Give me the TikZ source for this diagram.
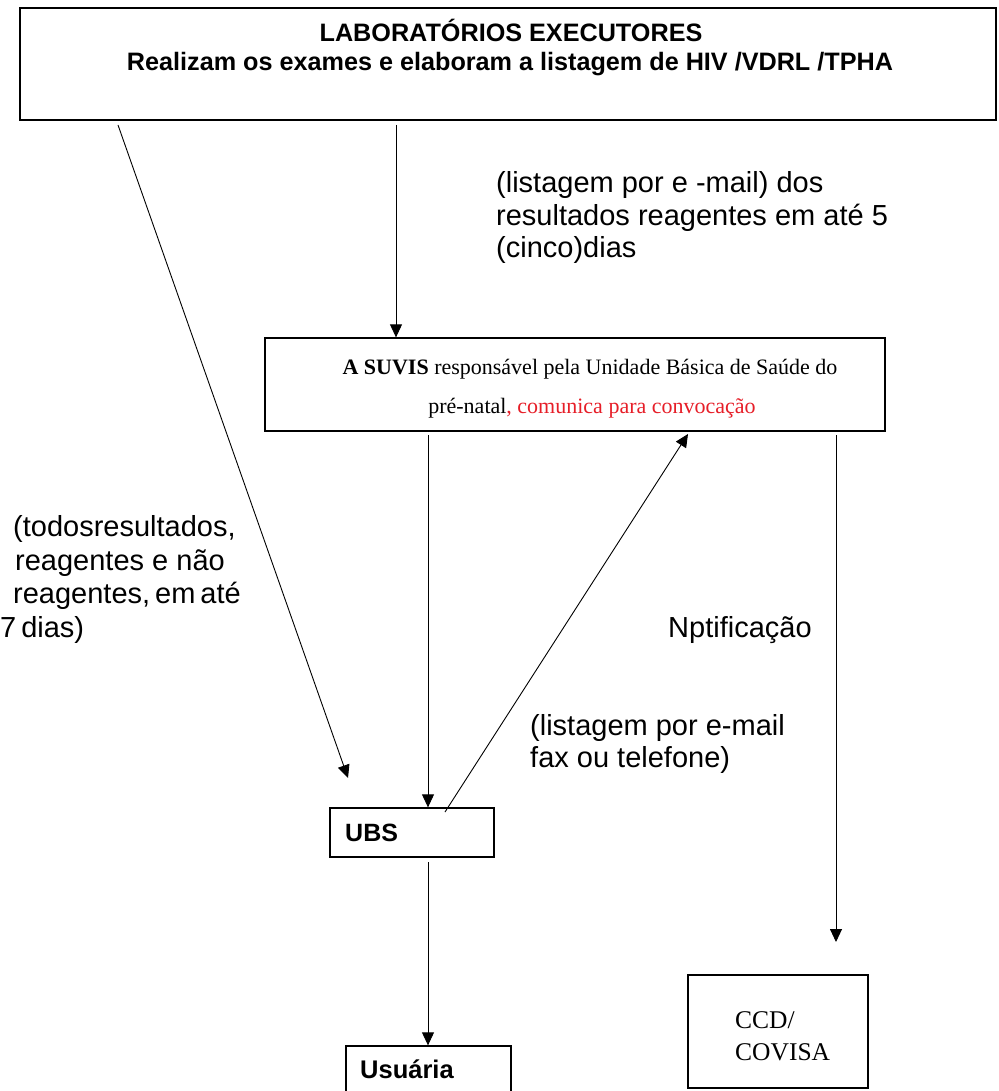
\documentclass[tikz,border=0pt]{standalone}
\usepackage{fontspec}
\setmainfont{Liberation Sans}
\newfontfamily\tms{Liberation Serif}
\usetikzlibrary{arrows.meta}
\definecolor{redtxt}{RGB}{230,30,40}
\tikzset{
  boxnode/.style={draw, line width=1.3pt, rectangle, inner sep=0pt},
  arr/.style={line width=0.9pt, -{Triangle[length=13pt,width=12pt]}},
  lbl/.style={inner sep=0pt, anchor=base west, align=left, font=\fontsize{29}{32.5}\selectfont},
  toptxt/.style={inner sep=0pt, anchor=base, font=\bfseries\fontsize{25.2}{29}\selectfont},
  suvtxt/.style={inner sep=0pt, anchor=base, font=\tms\fontsize{22}{26}\selectfont},
}
\begin{document}
\begin{tikzpicture}[x=1pt,y=-1pt]
\useasboundingbox (0,0) rectangle (998,1091);
\clip (0,0) rectangle (998,1091);
% boxes
\node[boxnode, minimum width=976pt, minimum height=112pt] (lab) at (508,64) {};
\node[toptxt] (lab1) at (511,42) {LABORATÓRIOS EXECUTORES};
\node[toptxt] (lab2) at (510,71) {Realizam os exames e elaboram a listagem de HIV /VDRL /TPHA};
\node[boxnode, minimum width=620pt, minimum height=93pt] (suvis) at (575,384.5) {};
\node[suvtxt] (suv1) at (590,374) {\textbf{A SUVIS} responsável pela Unidade Básica de Saúde do};
\node[suvtxt] (suv2) at (592,413) {pré-natal\textcolor{redtxt}{, comunica para convocação}};
\node[boxnode, minimum width=164pt, minimum height=49pt] (ubs) at (412,832.5) {};
\node[inner sep=0pt, anchor=base west, font=\bfseries\fontsize{25}{28}\selectfont] (ubstxt) at (345,841) {UBS};
\node[boxnode, minimum width=165pt, minimum height=70pt] (usu) at (428.5,1081) {};
\node[inner sep=0pt, anchor=base west, font=\bfseries\fontsize{25.5}{28}\selectfont] (usutxt) at (360,1078) {Usuária};
\node[boxnode, minimum width=180pt, minimum height=113pt] (ccd) at (778,1031.5) {};
\node[inner sep=0pt, anchor=base west, align=left, font=\tms\fontsize{25.5}{32}\selectfont] (ccdtxt) at (735,1060) {CCD/\\COVISA};
% labels
\node[lbl] (l1) at (496,258) {(listagem por e -mail) dos\\resultados reagentes em até 5\\(cinco)dias};
\node[lbl, font=\fontsize{29}{33.5}\selectfont] (l2) at (13,637) {(todosresultados,\\\hspace*{2pt}reagentes e não\\reagentes,\hspace{5pt}em\hspace{5pt}até\\\hspace*{-13pt}7\hspace{5pt}dias)};
\node[lbl] (l3) at (668,637) {Nptificação};
\node[lbl, font=\fontsize{29}{32}\selectfont] (l4) at (530,767) {(listagem por e-mail\\fax ou telefone)};
% connectors
\coordinate (s1) at (118,125);
\coordinate (e1) at (348,778);
\coordinate (s2) at (396,125);
\coordinate (s3) at (428,435);
\coordinate (s4) at (445,812);
\coordinate (e4) at (688,434);
\coordinate (s5) at (836,435);
\coordinate (e5) at (836,942);
\coordinate (s6) at (428,862);
\draw[arr] (s1) -- (e1);
\draw[arr] (s2) -- (s2 |- suvis.north);
\draw[arr] (s3) -- (s3 |- ubs.north);
\draw[arr] (s4) -- (e4);
\draw[arr] (s5) -- (e5);
\draw[arr] (s6) -- (s6 |- usu.north);
\end{tikzpicture}
\end{document}
